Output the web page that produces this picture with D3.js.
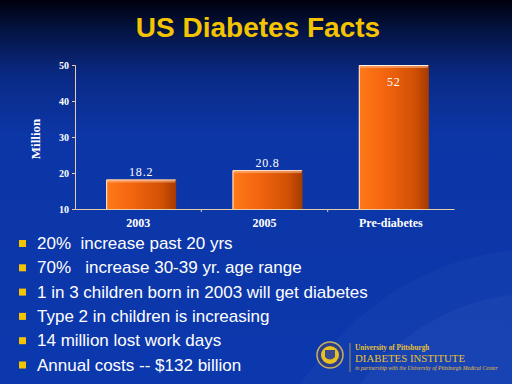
<!DOCTYPE html>
<html lang="en"><head><meta charset="utf-8">
<title>US Diabetes Facts</title>
<script src="https://cdnjs.cloudflare.com/ajax/libs/d3/7.8.5/d3.min.js"></script>
<style>
  body { margin:0; padding:0; background:#0c36a8; }
  svg { display:block; }
  .title { font-family: "Liberation Sans", Arial, sans-serif; font-weight:bold; font-size:28px; fill:#f5c400; }
  .serif { font-family: "Liberation Serif", "DejaVu Serif", serif; fill:#ffffff; }
  .bullet-text { font-family: "Liberation Sans", Arial, sans-serif; font-size:17px; fill:#ffffff; }
</style>
</head>
<body>
<svg class="slide" width="512" height="384"></svg>
<script>
// chart values
var categories = ["2003", "2005", "Pre-diabetes"]
var values = [18.2, 20.8, 52]
var yTicks = [10, 20, 30, 40, 50]
var bullets = [
  "20%  increase past 20 yrs",
  "70%   increase 30-39 yr. age range",
  "1 in 3 children born in 2003 will get diabetes",
  "Type 2 in children is increasing",
  "14 million lost work days",
  "Annual costs -- $132 billion"
]

var svg = d3.select('.slide')
var defs = svg.append("defs")

var bg = defs.append("linearGradient").attr("id", "bg")
  .attr("x1", 0).attr("y1", 0).attr("x2", 0).attr("y2", 1)
bg.append("stop").attr("offset", "0%").attr("stop-color", "#00000c")
bg.append("stop").attr("offset", "8%").attr("stop-color", "#041444")
bg.append("stop").attr("offset", "20%").attr("stop-color", "#0a2a86")
bg.append("stop").attr("offset", "35%").attr("stop-color", "#0c36a6")
bg.append("stop").attr("offset", "100%").attr("stop-color", "#0c38ae")

var barGrad = defs.append("linearGradient").attr("id", "bar")
  .attr("x1", 0).attr("y1", 0).attr("x2", 1).attr("y2", 0)
barGrad.append("stop").attr("offset", "0%").attr("stop-color", "#ff7a18")
barGrad.append("stop").attr("offset", "35%").attr("stop-color", "#f56610")
barGrad.append("stop").attr("offset", "80%").attr("stop-color", "#d05004")
barGrad.append("stop").attr("offset", "100%").attr("stop-color", "#a63a00")

svg.append("rect").attr("width", 512).attr("height", 384).attr("fill", "url(#bg)")

// faint wave in lower right
svg.append("path")
  .attr("d", "M300,384 C360,300 430,260 512,250 L512,384 Z")
  .attr("fill", "#3a60c0").attr("opacity", 0.12)
svg.append("path")
  .attr("d", "M360,384 C400,330 460,300 512,295 L512,384 Z")
  .attr("fill", "#5a80d0").attr("opacity", 0.1)

svg.append("text")
  .attr("class", "title")
  .attr("x", 258)
  .attr("y", 37)
  .attr("text-anchor", "middle")
  .text("US Diabetes Facts")

// chart
var x = d3.scaleBand().domain(categories).range([78, 457]).paddingInner(0.446).paddingOuter(0.223)
var xAxisScale = d3.scaleBand().domain(categories).range([75, 454])
var y = d3.scaleLinear().domain([10, 50]).range([209, 65]).clamp(true)

var axisColor = "#e6cfa8"

var g = svg.append("g")

g.selectAll(".bar").data(values).enter().append("rect")
  .attr("class", "bar")
  .attr("x", function(d, i) { return x(categories[i]) })
  .attr("y", function(d) { return y(d) })
  .attr("width", x.bandwidth())
  .attr("height", function(d) { return y(10) - y(d) })
  .attr("fill", "url(#bar)")

// light top cap
g.selectAll(".cap").data(values).enter().append("rect")
  .attr("x", function(d, i) { return x(categories[i]) + 1 })
  .attr("y", function(d) { return y(d) + 1 })
  .attr("width", x.bandwidth() - 2)
  .attr("height", 2)
  .attr("fill", "#ffb080").attr("opacity", 0.6)

// white edge on left and top
g.selectAll(".edge").data(values).enter().append("path")
  .attr("d", function(d, i) {
    var x0 = x(categories[i]), y0 = y(d)
    return "M" + (x0 + 0.5) + "," + y(10) + "V" + (y0 + 0.5) + "H" + (x0 + x.bandwidth() - 0.5)
  })
  .attr("fill", "none").attr("stroke", "#fff0e0").attr("stroke-width", 1)

// value labels
g.selectAll(".val").data(values).enter().append("text")
  .attr("class", "serif")
  .attr("x", function(d, i) { return x(categories[i]) + x.bandwidth() / 2 })
  .attr("y", function(d) { return d > 50 ? y(d) + 21 : y(d) - 3 })
  .attr("text-anchor", "middle")
  .attr("font-size", "12px")
  .attr("letter-spacing", "0.8px")
  .text(function(d) { return d })

// y axis
var yAxis = g.append("g").attr("transform", "translate(75,0)")
  .call(d3.axisLeft(y).tickValues(yTicks).tickSize(3).tickPadding(3))
yAxis.select(".domain").attr("stroke", axisColor)
yAxis.selectAll("line").attr("stroke", axisColor)
yAxis.selectAll("text").attr("class", "serif").attr("fill", "#ffffff")
  .attr("font-size", "10px").attr("font-weight", "bold")

// x axis
var xAxis = g.append("g").attr("transform", "translate(0,209)")
  .call(d3.axisBottom(xAxisScale).tickSize(0).tickPadding(9))
xAxis.select(".domain").attr("stroke", axisColor)
xAxis.selectAll("text").attr("class", "serif").attr("fill", "#ffffff")
  .attr("font-size", "12px").attr("font-weight", "bold")
xAxis.selectAll(".sep").data(categories.slice(1)).enter().append("line")
  .attr("x1", function(d) { return xAxisScale(d) }).attr("x2", function(d) { return xAxisScale(d) })
  .attr("y1", 0).attr("y2", 3).attr("stroke", axisColor)

svg.append("text")
  .attr("class", "serif")
  .attr("transform", "translate(40,139) rotate(-90)")
  .attr("text-anchor", "middle")
  .attr("font-size", "13px")
  .attr("font-weight", "bold")
  .text("Million")

// bullet list
var list = svg.append("g")
list.selectAll(".sq").data(bullets).enter().append("rect")
  .attr("x", 19)
  .attr("y", function(d, i) { return 240 + i * 24.3 })
  .attr("width", 7).attr("height", 7)
  .attr("fill", "#f5c400")
list.selectAll(".bullet-text").data(bullets).enter().append("text")
  .attr("class", "bullet-text")
  .attr("x", 37)
  .attr("y", function(d, i) { return 249 + i * 24.3 })
  .attr("xml:space", "preserve")
  .style("white-space", "pre")
  .text(function(d) { return d })

// logo
var logo = svg.append("g")
logo.append("circle").attr("cx", 330).attr("cy", 355).attr("r", 13)
  .attr("fill", "#2a3c8a").attr("stroke", "#c8b060").attr("stroke-width", 1.5)
logo.append("circle").attr("cx", 330).attr("cy", 355).attr("r", 9)
  .attr("fill", "#e8c020")
logo.append("path").attr("d", "M325,350 H335 V357 Q330,362 325,357 Z")
  .attr("fill", "#3a4a90")
logo.append("line").attr("x1", 350).attr("x2", 350).attr("y1", 343).attr("y2", 372)
  .attr("stroke", "#c8a840").attr("stroke-width", 0.8)
logo.append("text").attr("x", 355).attr("y", 350)
  .attr("font-family", "Liberation Serif, serif").attr("font-weight", "bold")
  .attr("font-size", "7.2px").attr("fill", "#e8c030")
  .text("University of Pittsburgh")
logo.append("text").attr("x", 355).attr("y", 362)
  .attr("font-family", "Liberation Serif, serif")
  .attr("font-size", "10.8px").attr("fill", "#e8c030")
  .text("DIABETES INSTITUTE")
logo.append("text").attr("x", 355).attr("y", 369.5)
  .attr("font-family", "Liberation Serif, serif").attr("font-style", "italic")
  .attr("font-size", "5.6px").attr("fill", "#e8c030")
  .text("in partnership with the University of Pittsburgh Medical Center")
</script>
</body></html>
